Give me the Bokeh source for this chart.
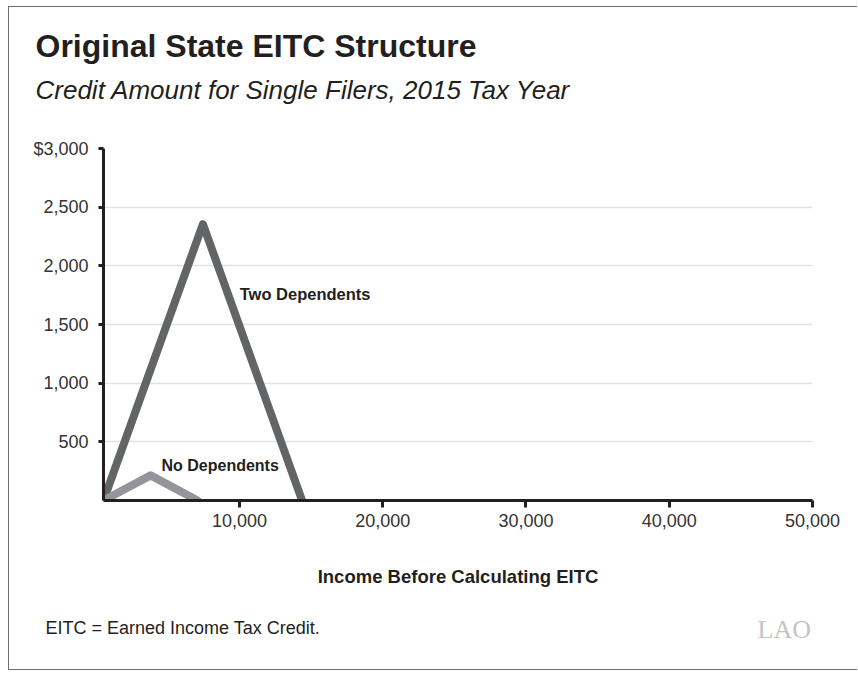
from bokeh.plotting import figure
from bokeh.models import Label, FixedTicker, NumeralTickFormatter, Range1d
from bokeh.embed import file_html
from bokeh.resources import INLINE

# Data
income_two = [510, 7450, 14375]
credit_two = [0, 2355, 0]
income_none = [510, 3800, 7080]
credit_none = [0, 214, 0]

y_ticks = [500, 1000, 1500, 2000, 2500, 3000]
y_tick_labels = ["500", "1,000", "1,500", "2,000", "2,500", "$3,000"]
x_ticks = [10000, 20000, 30000, 40000, 50000]

title = "Original State EITC Structure"
subtitle = "Credit Amount for Single Filers, 2015 Tax Year"
x_label = "Income Before Calculating EITC"
footnote = "EITC = Earned Income Tax Credit."
logo = "LAO"

FONT = "Liberation Sans"
TXT = "#231f20"
BORDER = "1px solid #6d6e71"
W = 849
H_HEAD, H_MAIN, H_FOOT = 100, 493, 71


def text_panel(h):
    f = figure(width=W, height=h, output_backend="svg", toolbar_location=None,
               x_range=Range1d(0, W), y_range=Range1d(h, 0),
               x_axis_type=None, y_axis_type=None, min_border=0)
    f.outline_line_color = None
    f.xgrid.visible = False
    f.ygrid.visible = False
    f.background_fill_color = "white"
    f.border_fill_color = "white"
    return f


# header
head = text_panel(H_HEAD)
head.styles = {"margin-left": "8px", "margin-top": "6px", "border-top": BORDER,
               "border-left": BORDER}
head.add_layout(Label(x=26, y=38, text=title, text_font=FONT,
                      text_font_style="bold", text_font_size="32px",
                      text_color=TXT, text_baseline="middle"))
head.add_layout(Label(x=26, y=82, text=subtitle, text_font=FONT,
                      text_font_style="italic", text_font_size="26px",
                      text_color=TXT, text_baseline="middle"))

# main chart
p = figure(width=W, height=H_MAIN, output_backend="svg", toolbar_location=None,
           x_range=Range1d(511, 50000), y_range=Range1d(0, 3000),
           min_border_left=94, min_border_right=46, min_border_top=42,
           min_border_bottom=99)
p.styles = {"margin-left": "8px", "border-left": BORDER}
p.outline_line_color = None
p.background_fill_color = "white"
p.border_fill_color = "white"

p.xgrid.visible = False
p.ygrid.ticker = FixedTicker(ticks=y_ticks)
p.ygrid.grid_line_color = "#e2e2e2"
p.ygrid.grid_line_width = 1.5

for ax in (p.xaxis[0], p.yaxis[0]):
    ax.axis_line_color = TXT
    ax.axis_line_width = 3
    ax.major_tick_line_color = TXT
    ax.major_tick_line_width = 3
    ax.minor_tick_line_color = None
    ax.major_tick_in = 0
    ax.major_label_text_font = FONT
    ax.major_label_text_font_size = "18px"
    ax.major_label_text_color = "#333333"

p.yaxis.ticker = FixedTicker(ticks=y_ticks)
p.yaxis.major_label_overrides = {t: l for t, l in zip(y_ticks, y_tick_labels)}
p.yaxis.major_tick_out = 5
p.yaxis.major_label_standoff = 10

p.xaxis.ticker = FixedTicker(ticks=x_ticks)
p.xaxis.formatter = NumeralTickFormatter(format="0,0")
p.xaxis.major_tick_out = 7
p.xaxis.major_label_standoff = 6
p.xaxis.axis_label = x_label
p.xaxis.axis_label_text_font = FONT
p.xaxis.axis_label_text_font_style = "bold"
p.xaxis.axis_label_text_font_size = "18.5px"
p.xaxis.axis_label_text_color = TXT
p.xaxis.axis_label_standoff = 36

p.line(income_two, credit_two, line_color="#636466", line_width=8,
       line_cap="round", line_join="round")
p.line(income_none, credit_none, line_color="#939598", line_width=8,
       line_cap="round", line_join="round")

p.add_layout(Label(x=10020, y=1764, text="Two Dependents", text_font=FONT,
                   text_font_style="bold", text_font_size="16.5px",
                   text_color=TXT, text_baseline="middle"))
p.add_layout(Label(x=4558, y=298, text="No Dependents", text_font=FONT,
                   text_font_style="bold", text_font_size="16px",
                   text_color=TXT, text_baseline="middle"))

# footer
foot = text_panel(H_FOOT)
foot.styles = {"margin-left": "8px", "border-bottom": BORDER,
               "border-left": BORDER}
foot.add_layout(Label(x=36, y=28, text=footnote, text_font=FONT,
                      text_font_size="18px", text_color=TXT,
                      text_baseline="middle"))
foot.add_layout(Label(x=748, y=30, text=logo, text_font="Liberation Serif",
                      text_font_size="26px", text_color="#c4c4c4",
                      text_baseline="middle"))

open("out.html", "w").write(file_html([head, p, foot], INLINE))
